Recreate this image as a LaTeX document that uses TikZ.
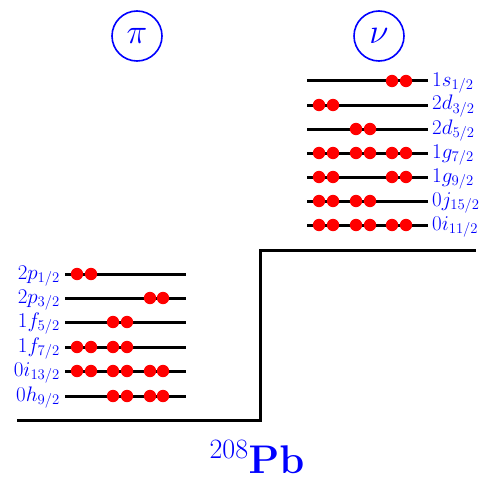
\documentclass[tikz,border=0pt]{standalone}
\usepackage{fix-cm}
\usepackage{amsmath}
\begin{document}
\begin{tikzpicture}[x=1pt,y=-1pt,
  lvl/.style={line width=3pt,black},
  lab/.style={text=blue,font=\fontsize{21}{24}\selectfont,inner sep=0pt},
  nuc/.style={red,fill=red},
  spec/.style={draw=blue,line width=1.6pt,circle,minimum size=50pt,inner sep=0pt,text=blue,font=\fontsize{35}{38}\selectfont}]
\useasboundingbox (0,0) rectangle (486,476);
% core step line
\coordinate (c1) at (17,420);
\coordinate (c2) at (260,420);
\coordinate (c3) at (260,250);
\coordinate (c4) at (476,250);
\draw[lvl,line join=miter] (c1) -- (c2) -- (c3) -- (c4);
% species circles
\node[spec] (pi) at (137,36) {$\pi$};
\node[spec] (nu) at (379,36) {$\nu$};
% nucleus label
\node[text=blue,anchor=base,inner sep=0pt,font=\fontsize{40}{44}\selectfont] (pb) at (257,473) {$^{208}\mathbf{Pb}$};
% proton levels
\foreach \y/\l/\dots [count=\i] in {274/{2p_{1/2}}/{77,91},298/{2p_{3/2}}/{150,163},322/{1f_{5/2}}/{113,127},347/{1f_{7/2}}/{77,91,113,127},371/{0i_{13/2}}/{77,91,113,127,150,163},396/{0h_{9/2}}/{113,127,150,163}}{
  \coordinate (pl\i) at (65,\y);
  \coordinate (pr\i) at (186,\y);
  \draw[lvl] (pl\i) -- (pr\i);
  \node[lab,anchor=base east] (plab\i) at (60,\y+5) {$\l$};
  \foreach \x in \dots {\fill[nuc] (\x,\y) circle (6.2);}
}
% neutron levels
\foreach \y/\l/\dots [count=\i] in {81/{1s_{1/2}}/{392,406},105/{2d_{3/2}}/{319,333},129/{2d_{5/2}}/{356,370},153/{1g_{7/2}}/{319,333,356,370,392,406},177/{1g_{9/2}}/{319,333,392,406},201/{0j_{15/2}}/{319,333,356,370},225/{0i_{11/2}}/{319,333,356,370,392,406}}{
  \coordinate (nl\i) at (307,\y);
  \coordinate (nr\i) at (428,\y);
  \draw[lvl] (nl\i) -- (nr\i);
  \node[lab,anchor=base west] (nlab\i) at (432,\y+5) {$\l$};
  \foreach \x in \dots {\fill[nuc] (\x,\y) circle (6.2);}
}
\end{tikzpicture}
\end{document}
